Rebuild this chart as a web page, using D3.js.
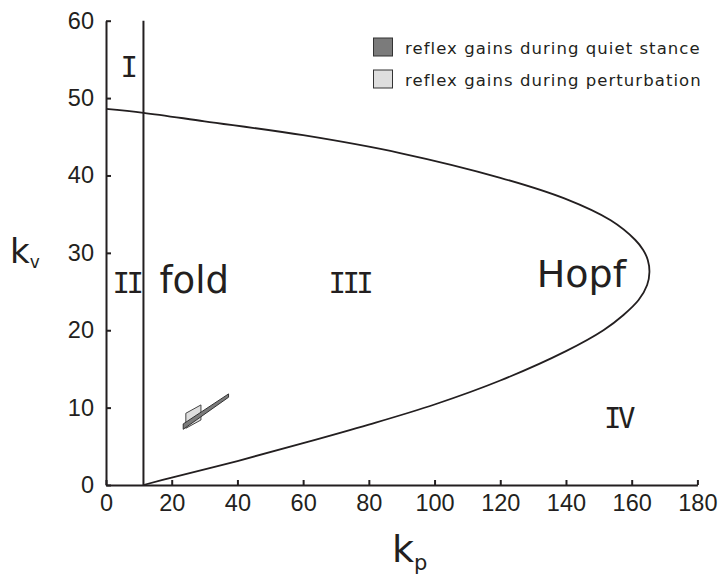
<!DOCTYPE html>
<html>
<head>
<meta charset="utf-8">
<script src="https://cdn.jsdelivr.net/npm/d3@7"></script>
<style>
  html, body { margin: 0; padding: 0; background: #fff; }
  svg { display: block; font-family: "DejaVu Sans", Verdana, sans-serif; }
  .axis path, .axis line { stroke: #231f20; stroke-width: 2; }
  .axis text { fill: #231f20; font-size: 23.5px; }
</style>
</head>
<body>
<svg id="chart" width="724" height="579"></svg>
<script>
// Stability boundaries in the (kp, kv) reflex-gain plane
const xTicks = [0, 20, 40, 60, 80, 100, 120, 140, 160, 180];
const yTicks = [0, 10, 20, 30, 40, 50, 60];

// Fold boundary: vertical line at kp = mgh
const foldKp = 11.4;

// Hopf boundary, traced from its lower end, round the tip and back to kp = 0
const hopfKp = [11.4, 20, 40, 60, 80, 100, 120, 140, 151.4, 157.5, 162.1, 164.7, 165.4, 164.9, 163.5, 161.1, 153.6, 139.7, 120, 89.5, 60, 30, 11.4, 0];
const hopfKv = [0, 0.95, 3.1, 5.4, 7.8, 10.4, 13.5, 17.3, 20.0, 21.97, 23.9, 25.85, 27.53, 29.08, 30.37, 31.66, 34.2, 37.0, 39.7, 42.9, 45.2, 47.0, 48.1, 48.6];

// Identified reflex-gain regions
const quietKp = [23.5, 37.3, 37.3, 23.5];
const quietKv = [7.2, 11.34, 11.77, 7.89];
const perturbKp = [24.3, 24.3, 28.9, 28.9];
const perturbKv = [7.33, 9.27, 10.35, 8.4];

const legendLabels = ["reflex gains during quiet stance", "reflex gains during perturbation"];
const legendFills = ["#7b7b7b", "#dedede"];

// Region labels: text, kp, kv
const regionText = ["I", "II", "fold", "III", "Hopf", "IV"];
const regionKp = [4.4, 2.0, 16.3, 67.7, 131.1, 151.6];
const regionKv = [52.7, 24.8, 24.8, 24.8, 25.6, 7.4];

const ink = "#231f20";
const svg = d3.select("#chart");

const x = d3.scaleLinear().domain([0, 180]).range([106, 697.4]);
const y = d3.scaleLinear().domain([0, 60]).range([485, 20.7]);

// Axes with inward ticks
svg.append("g")
  .attr("class", "axis")
  .attr("transform", `translate(0,${y(0)})`)
  .call(d3.axisBottom(x).tickValues(xTicks).tickSizeInner(-5).tickSizeOuter(0).tickPadding(9).tickFormat(d3.format("d")));

svg.append("g")
  .attr("class", "axis")
  .attr("transform", `translate(${x(0)},0)`)
  .call(d3.axisLeft(y).tickValues(yTicks).tickSizeInner(-5).tickSizeOuter(0).tickPadding(12).tickFormat(d3.format("d")));

// Fold line
svg.append("line")
  .attr("x1", x(foldKp)).attr("x2", x(foldKp))
  .attr("y1", y(0)).attr("y2", y(60))
  .attr("stroke", ink).attr("stroke-width", 2);

// Hopf curve
const hopfPts = hopfKp.map((k, i) => [k, hopfKv[i]]);
svg.append("path")
  .datum(hopfPts)
  .attr("d", d3.line().x(d => x(d[0])).y(d => y(d[1])).curve(d3.curveCatmullRom.alpha(0.5)))
  .attr("fill", "none")
  .attr("stroke", ink)
  .attr("stroke-width", 1.8);

// Gain regions
const poly = (ks, vs) => ks.map((k, i) => [x(k), y(vs[i])].join(",")).join(" ");
svg.append("polygon")
  .attr("points", poly(perturbKp, perturbKv))
  .attr("fill", legendFills[1]).attr("stroke", "#444").attr("stroke-width", 1);
svg.append("polygon")
  .attr("points", poly(quietKp, quietKv))
  .attr("fill", legendFills[0]).attr("stroke", "#333").attr("stroke-width", 1);

// Region labels
const numeralFont = '"DejaVu Sans Mono", monospace';
regionText.forEach((t, i) => {
  const roman = /^[IV]+$/.test(t);
  const size = t === "Hopf" ? 38 : t === "fold" ? 37 : 29;
  svg.append("text")
    .attr("x", x(regionKp[i])).attr("y", y(regionKv[i]))
    .attr("fill", ink)
    .attr("font-size", size)
    .attr("font-family", roman ? numeralFont : null)
    .attr("letter-spacing", roman ? -3.5 : null)
    .text(t);
});

// Axis titles
const xt = svg.append("text").attr("x", 392).attr("y", 562).attr("fill", ink).attr("font-size", 38);
xt.append("tspan").text("k");
xt.append("tspan").attr("font-size", 21).attr("dy", 8).text("p");

const yt = svg.append("text").attr("x", 10).attr("y", 263).attr("fill", ink).attr("font-size", 34);
yt.append("tspan").text("k");
yt.append("tspan").attr("font-size", 17).attr("dy", 5).text("v");

// Legend
const legend = svg.append("g");
legendLabels.forEach((lab, i) => {
  const gy = 38 + i * 32;
  legend.append("rect")
    .attr("x", 373.5).attr("y", gy).attr("width", 19).attr("height", 18)
    .attr("fill", legendFills[i]).attr("stroke", "#333").attr("stroke-width", 1);
  legend.append("text")
    .attr("x", 405).attr("y", gy + 16)
    .attr("fill", ink).attr("font-size", 16.5).attr("letter-spacing", 1.05)
    .text(lab);
});
</script>
</body>
</html>
